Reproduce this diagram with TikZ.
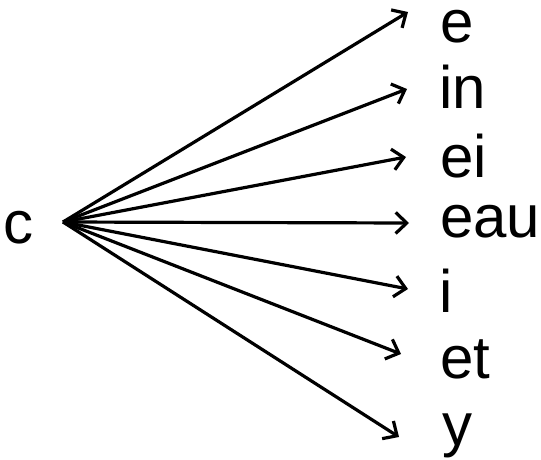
\documentclass[tikz,border=0pt]{standalone}
\usepackage{fontspec}
\setmainfont{Liberation Sans}
\usetikzlibrary{arrows.meta}

\begin{document}
\begin{tikzpicture}[
    x=1pt, y=-1pt,
    every node/.style={font=\fontsize{60}{62}\selectfont, inner sep=0pt, anchor=base west},
    arrow/.style={-{Straight Barb[length=11pt,width=21pt]}, line width=3.2pt}
]
\useasboundingbox (0,0) rectangle (541,460);

\node (c) at (3.5,243) {c};
\coordinate (hub) at (63,222);

\node (e) at (440,43) {e};
\node (in) at (439,109) {in};
\node (ei) at (440,177) {ei};
\node (eau) at (440,237) {eau};
\node (i) at (439,312) {i};
\node (et) at (440,378) {et};
\node (y) at (442,445) {y};

\coordinate (to-e) at (408,12);
\coordinate (to-in) at (407,89);
\coordinate (to-ei) at (406,157);
\coordinate (to-eau) at (409,223);
\coordinate (to-i) at (408,289);
\coordinate (to-et) at (401,354);
\coordinate (to-y) at (399,437);

\draw[arrow] (hub) -- (to-e);
\draw[arrow] (hub) -- (to-in);
\draw[arrow] (hub) -- (to-ei);
\draw[arrow] (hub) -- (to-eau);
\draw[arrow] (hub) -- (to-i);
\draw[arrow] (hub) -- (to-et);
\draw[arrow] (hub) -- (to-y);

\end{tikzpicture}
\end{document}
